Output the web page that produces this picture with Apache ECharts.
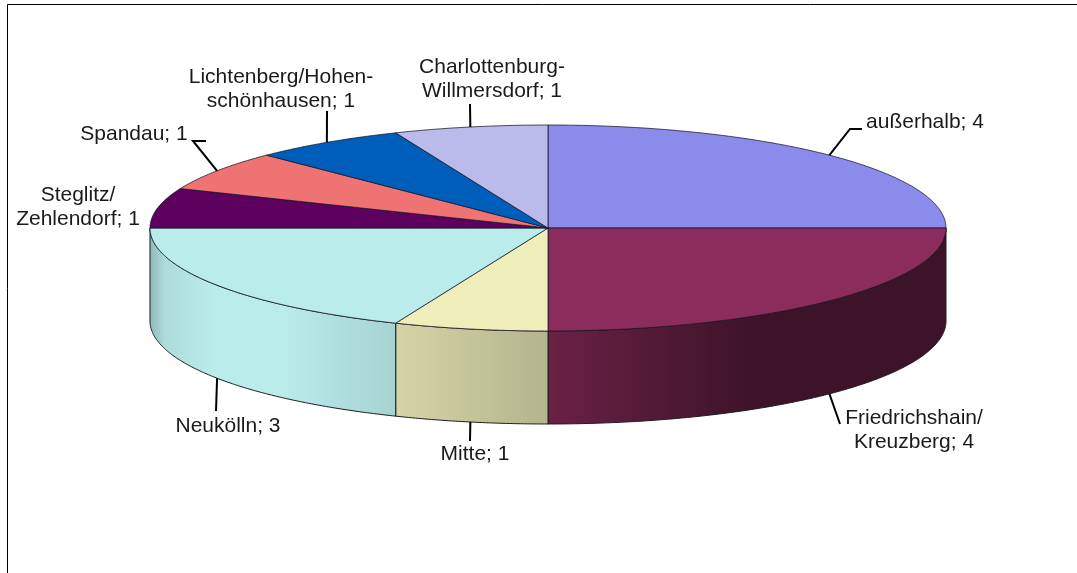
<!DOCTYPE html>
<html>
<head>
<meta charset="utf-8">
<title>Bezirke</title>
<script src="https://cdn.jsdelivr.net/npm/echarts@6/dist/echarts.min.js"></script>
<style>
  html, body { margin: 0; padding: 0; background: #fff; }
  #chart { width: 1077px; height: 573px; }
</style>
</head>
<body>
<div id="chart"></div>
<script>
// Werte aus dem Bild, im Uhrzeigersinn ab 12 Uhr
const bezirke = [
  'außerhalb', 'Friedrichshain/\nKreuzberg', 'Mitte', 'Neukölln',
  'Steglitz/\nZehlendorf', 'Spandau', 'Lichtenberg/Hohen-\nschönhausen',
  'Charlottenburg-\nWillmersdorf'
];
const anzahl = [4, 4, 1, 3, 1, 1, 1, 1];
const farben = ['#8b8beb', '#8b2c5c', '#eeeebb', '#bbecec', '#5e005e', '#ef7373', '#005ebb', '#bbbbeb'];

// Geometrie der Torte
const CX = 548, CY = 228, RX = 398, RY = 103, TIEFE = 93;

// Textposition und Knick der Führungslinie je Stück (null = keine Linie)
const beschriftung = [
  { x: 925, y: 122, linie: [[850, 129], [862, 129]] },
  { x: 914, y: 430, linie: [[840, 424]] },
  { x: 475, y: 454, linie: [[470, 441]] },
  { x: 228, y: 426, linie: [[216, 411]] },
  { x: 78, y: 207, linie: null },
  { x: 134, y: 134, linie: [[193, 141], [206, 141]] },
  { x: 281, y: 89.5, linie: [[327, 111]] },
  { x: 492, y: 79, linie: [[470, 104]] }
];

// Helligkeit der Seitenwand von links nach rechts
const schatten = [
  [150, 0.78], [165, 0.93], [215, 1], [280, 1], [395, 0.89],
  [548, 0.76], [650, 0.6], [760, 0.43], [946, 0.43]
];

const gesamt = anzahl.reduce((a, b) => a + b, 0);
const startWinkel = [];
anzahl.reduce((sum, v, i) => { startWinkel[i] = sum / gesamt * 360; return sum + v; }, 0);

function punkt(grad, dy) {
  const r = grad * Math.PI / 180;
  return [CX + RX * Math.sin(r), CY - RY * Math.cos(r) + (dy || 0)];
}

function bogen(von, bis, dy) {
  const pts = [];
  const n = Math.max(2, Math.ceil((bis - von) * 2));
  for (let i = 0; i <= n; i++) pts.push(punkt(von + (bis - von) * i / n, dy));
  return pts;
}

function abdunkeln(hex, f) {
  const n = parseInt(hex.slice(1), 16);
  const c = [(n >> 16) & 255, (n >> 8) & 255, n & 255].map((v) => Math.round(v * f));
  return `rgb(${c.join(',')})`;
}

function seitenVerlauf(farbe) {
  const x0 = schatten[0][0];
  const x1 = schatten[schatten.length - 1][0];
  const stops = schatten.map(([x, f]) => ({ offset: (x - x0) / (x1 - x0), color: abdunkeln(farbe, f) }));
  return new echarts.graphic.LinearGradient(x0, 0, x1, 0, stops, true);
}

function zeichneStueck(params, api) {
  const i = params.dataIndex;
  const von = startWinkel[i];
  const bis = von + api.value(0) / gesamt * 360;
  const children = [];

  // Seitenwand nur im vorderen Teil (90 bis 270 Grad)
  const sv = Math.max(von, 90);
  const sb = Math.min(bis, 270);
  if (sb > sv) {
    const oben = bogen(sv, sb, 0);
    const unten = bogen(sv, sb, TIEFE).reverse();
    children.push({
      type: 'polygon',
      shape: { points: oben.concat(unten) },
      style: { fill: seitenVerlauf(farben[i]), stroke: '#1c1c1c', lineWidth: 1, lineJoin: 'round' }
    });
  }
  children.push({
    type: 'polygon',
    shape: { points: [[CX, CY]].concat(bogen(von, bis, 0)) },
    style: { fill: farben[i], stroke: 'rgba(20,20,40,0.75)', lineWidth: 1, lineJoin: 'round' }
  });
  return { type: 'group', children };
}

function zeichneText(params, api) {
  const i = params.dataIndex;
  const b = beschriftung[i];
  const mitte = startWinkel[i] + api.value(0) / gesamt * 180;
  const children = [];
  if (b.linie) {
    const anker = punkt(mitte, mitte > 90 && mitte < 270 ? TIEFE : 0);
    children.push({
      type: 'polyline',
      shape: { points: [anker].concat(b.linie) },
      style: { stroke: '#000', lineWidth: 2, fill: null }
    });
  }
  children.push({
    type: 'text',
    x: b.x,
    y: b.y,
    style: {
      text: bezirke[i] + '; ' + api.value(0),
      fill: '#1a1a1a',
      font: '21px "Liberation Sans", Arial, sans-serif',
      lineHeight: 24,
      align: 'center',
      verticalAlign: 'middle'
    }
  });
  return { type: 'group', children };
}

const myChart = echarts.init(document.getElementById('chart'));

myChart.setOption({
  backgroundColor: '#fff',
  animation: false,
  graphic: [{
    type: 'polyline',
    silent: true,
    shape: { points: [[7.5, 573], [7.5, 4.5], [1077, 4.5]] },
    style: { stroke: '#000', lineWidth: 1, fill: null }
  }],
  series: [
    { type: 'custom', coordinateSystem: 'none', data: anzahl, renderItem: zeichneStueck, z: 2 },
    { type: 'custom', coordinateSystem: 'none', data: anzahl, renderItem: zeichneText, z: 3 }
  ]
});
</script>
</body>
</html>
